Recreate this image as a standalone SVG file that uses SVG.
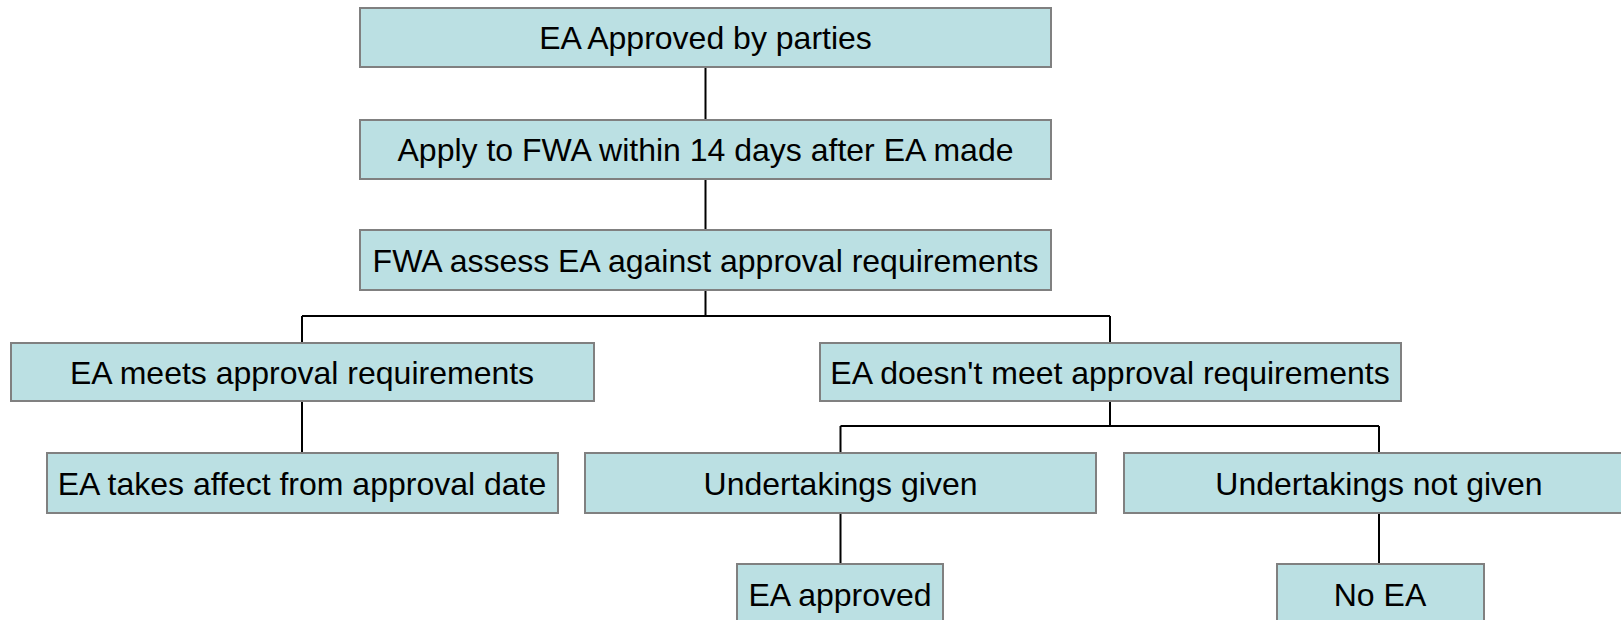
<svg xmlns="http://www.w3.org/2000/svg" width="1621" height="620" viewBox="0 0 1621 620">
<style>
.box{fill:#bbe0e3;stroke:#808080;stroke-width:2}
.lbl{font-family:"Liberation Sans",Arial,sans-serif;font-size:32px;fill:#000;text-anchor:middle}
.con{fill:none;stroke:#000;stroke-width:2}
</style>
<rect width="1621" height="620" fill="#fff"/>
<g id="connectors">
<path class="con" d="M705.5 67V120M705.5 179V230M705.5 290V316M302 316H1110M302 316V343M1110 316V343M302 401V453M1110 401V426M840.5 426H1379M840.5 426V453M1379 426V453M840.5 513V564M1379 513V564"/>
</g>
<g id="n1"><rect class="box" x="360" y="8" width="691" height="59"/><text class="lbl" x="705.5" y="49">EA Approved by parties</text></g>
<g id="n2"><rect class="box" x="360" y="120" width="691" height="59"/><text class="lbl" x="705.5" y="161">Apply to FWA within 14 days after EA made</text></g>
<g id="n3"><rect class="box" x="360" y="230" width="691" height="60"/><text class="lbl" x="705.5" y="272">FWA assess EA against approval requirements</text></g>
<g id="n4"><rect class="box" x="11" y="343" width="583" height="58"/><text class="lbl" x="302" y="384">EA meets approval requirements</text></g>
<g id="n5"><rect class="box" x="820" y="343" width="581" height="58"/><text class="lbl" x="1110" y="384">EA doesn't meet approval requirements</text></g>
<g id="n6"><rect class="box" x="47" y="453" width="511" height="60"/><text class="lbl" x="302" y="495">EA takes affect from approval date</text></g>
<g id="n7"><rect class="box" x="585" y="453" width="511" height="60"/><text class="lbl" x="840.5" y="495">Undertakings given</text></g>
<g id="n8"><rect class="box" x="1124" y="453" width="510" height="60"/><text class="lbl" x="1379" y="495">Undertakings not given</text></g>
<g id="n9"><rect class="box" x="737" y="564" width="206" height="60"/><text class="lbl" x="840" y="606">EA approved</text></g>
<g id="n10"><rect class="box" x="1277" y="564" width="207" height="60"/><text class="lbl" x="1380" y="606">No EA</text></g>
</svg>
